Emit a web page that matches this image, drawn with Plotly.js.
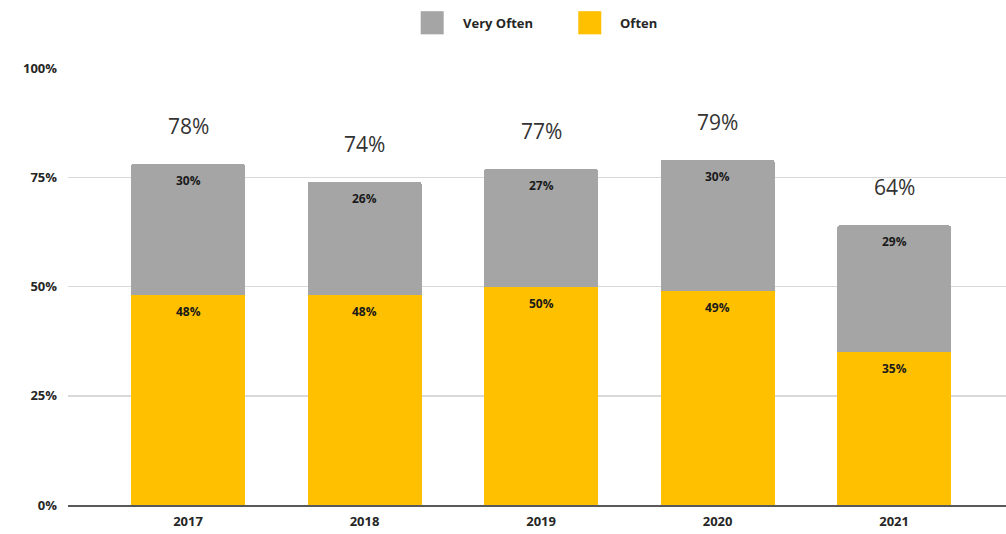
<!DOCTYPE html>
<html>
<head>
<meta charset="utf-8">
<script src="https://cdn.plot.ly/plotly-3.0.1.min.js"></script>
<style>html,body{margin:0;padding:0;background:#fff;}#chart{width:1006px;height:534px;}</style>
</head>
<body>
<div id="chart"></div>
<script>
const years = ['2017', '2018', '2019', '2020', '2021'];
const often = [48, 48, 50, 49, 35];
const veryOften = [30, 26, 27, 30, 29];
const seriesNames = ['Very Often', 'Often'];
const seriesColors = ['#a5a5a5', '#ffc000'];
const totals = often.map((v, i) => v + veryOften[i]);

const fam = 'Open Sans, Liberation Sans, sans-serif';
const labelFont = {family: fam, size: 12, color: '#1a1a1a', weight: 'bold'};
const barWidth = 0.646;

const traces = [
  {
    type: 'bar', name: seriesNames[1], x: years, y: often,
    marker: {color: seriesColors[1]}, width: barWidth,
    hoverinfo: 'skip', showlegend: false
  },
  {
    type: 'bar', name: seriesNames[0], x: years, y: veryOften,
    marker: {color: seriesColors[0]}, width: barWidth,
    hoverinfo: 'skip', showlegend: false
  }
];

const annotations = [];
years.forEach((yr, i) => {
  // total above each bar
  annotations.push({
    x: i, y: totals[i], xref: 'x', yref: 'y',
    text: totals[i] + '%', showarrow: false, yanchor: 'bottom', yshift: 22,
    font: {family: fam, size: 21, color: '#333333'}
  });
  // segment labels near the top of each segment
  annotations.push({
    x: i, y: often[i], xref: 'x', yref: 'y',
    text: often[i] + '%', showarrow: false, yanchor: 'top', yshift: -6,
    font: labelFont
  });
  annotations.push({
    x: i, y: totals[i], xref: 'x', yref: 'y',
    text: veryOften[i] + '%', showarrow: false, yanchor: 'top', yshift: -6,
    font: labelFont
  });
});

// custom legend (squares + labels)
const legendX = [0.376, 0.544];
const shapes = [];
seriesNames.forEach((n, i) => {
  const x0 = legendX[i];
  shapes.push({type: 'rect', xref: 'paper', yref: 'paper',
    x0: x0, x1: x0 + 23 / 938, y0: 1.077, y1: 1.13,
    fillcolor: seriesColors[i], line: {width: 0}});
  annotations.push({xref: 'paper', yref: 'paper', x: x0 + 40 / 938, y: 1.103,
    xanchor: 'left', yanchor: 'middle', showarrow: false, text: n,
    font: {family: fam, size: 13, color: '#262626', weight: 'bold'}});
});

const layout = {
  width: 1006, height: 534,
  margin: {l: 68, r: 0, t: 68, b: 29},
  paper_bgcolor: '#fff', plot_bgcolor: '#fff',
  barmode: 'stack',
  barcornerradius: 3,
  showlegend: false,
  xaxis: {
    type: 'category', range: [-0.68, 4.634],
    showgrid: false, showline: true, linecolor: '#595959', linewidth: 1.5,
    ticks: '', ticklabelstandoff: 4,
    tickfont: {family: fam, size: 13, color: '#262626', weight: 'bold'},
    fixedrange: true
  },
  yaxis: {
    range: [0, 100], dtick: 25, ticksuffix: '%',
    showgrid: true, gridcolor: '#d9d9d9', gridwidth: 1.5, zeroline: false,
    showline: false, ticks: '', ticklabelstandoff: 10,
    tickfont: {family: fam, size: 13, color: '#262626', weight: 'bold'},
    fixedrange: true
  },
  annotations: annotations,
  shapes: shapes
};

Plotly.newPlot('chart', traces, layout, {displayModeBar: false, staticPlot: true});
</script>
</body>
</html>
